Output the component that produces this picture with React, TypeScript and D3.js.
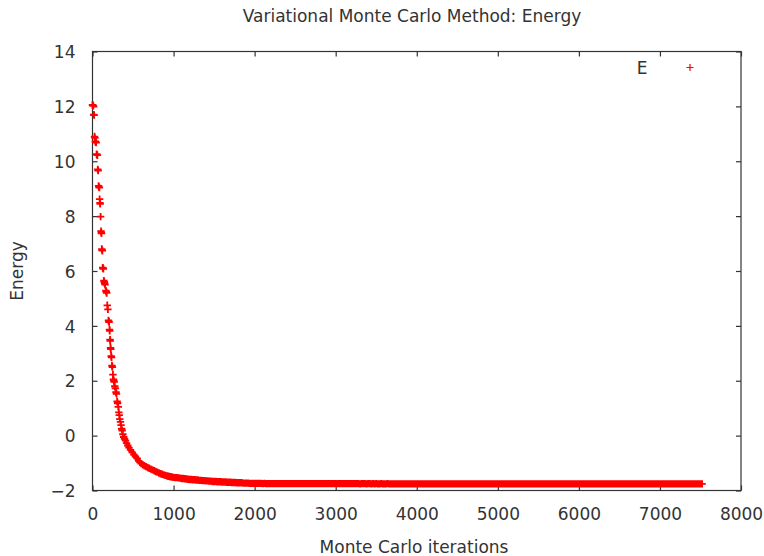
import React, { useEffect, useRef } from 'react';
import * as d3 from 'd3';

// early part of the run
const earlyIterations = [
  0, 5, 10, 15, 20, 25, 30, 35, 40, 45, 50, 55, 60, 65, 70, 75, 80, 85, 88, 92,
  95, 100, 105, 108, 111, 115, 118, 122, 126, 130, 134, 140, 145, 150, 155, 165, 170, 175, 182, 190,
  197, 201, 205, 210, 213, 216, 219, 222, 226, 230, 235, 240, 245, 252, 258, 263, 268, 275, 282, 290,
  296, 304, 310, 318, 325, 330, 337, 345, 352, 360, 366, 375, 385, 395, 407, 420, 435, 450, 469, 490,
  510, 530, 551, 570, 585,
];
const earlyEnergies = [
  12.05, 12.04, 12.02, 11.7, 11.68, 10.9, 10.85, 10.72, 10.7, 10.68, 10.26, 10.24, 10.22, 9.7, 9.66, 9.1, 9.06, 9.04, 8.62, 8.48,
  8.45, 7.98, 7.45, 7.4, 7.37, 6.8, 6.76, 6.74, 6.12, 6.1, 6.08, 5.65, 5.6, 5.55, 5.5, 5.28, 5.24, 5.2, 4.75, 4.6,
  4.2, 4.16, 4.14, 3.86, 3.82, 3.5, 3.45, 3.2, 3.15, 2.9, 2.85, 2.55, 2.5, 2.22, 2.05, 2.0, 1.96, 1.8, 1.72, 1.58,
  1.52, 1.25, 1.18, 1.05, 0.85, 0.75, 0.6, 0.5, 0.38, 0.25, 0.18, 0.05, -0.05, -0.12, -0.18, -0.27, -0.36, -0.44, -0.52, -0.61,
  -0.69, -0.76, -0.83, -0.92, -0.97,
];

// the rest of the run, one reading every 20 iterations from 600 to 7520
const tailStart = 600;
const tailStep = 20;
const tailEnergies = [
  -1.02, -1.06, -1.1, -1.13, -1.16, -1.19, -1.22, -1.25, -1.28, -1.31, -1.33, -1.36, -1.39, -1.41, -1.43, -1.45, -1.47, -1.48, -1.5, -1.51,
  -1.52, -1.53, -1.53, -1.54, -1.55, -1.56, -1.56, -1.57, -1.58, -1.59, -1.6, -1.6, -1.61, -1.61, -1.62, -1.62, -1.63, -1.63, -1.64, -1.64,
  -1.65, -1.65, -1.66, -1.66, -1.67, -1.67, -1.67, -1.68, -1.68, -1.68, -1.69, -1.69, -1.69, -1.7, -1.7, -1.7, -1.71, -1.71, -1.71, -1.72,
  -1.72, -1.72, -1.72, -1.73, -1.73, -1.73, -1.73, -1.74, -1.74, -1.74,
  -1.74, -1.74, -1.74, -1.74, -1.74, -1.75, -1.74, -1.75, -1.75, -1.75, -1.75, -1.75, -1.75, -1.75, -1.75, -1.75, -1.75, -1.75, -1.75, -1.75,
  -1.75, -1.75, -1.75, -1.75, -1.75, -1.75, -1.75, -1.75, -1.75, -1.75, -1.75, -1.75, -1.75, -1.75, -1.75, -1.75, -1.75, -1.75, -1.75, -1.75,
  -1.75, -1.75, -1.75, -1.75, -1.75, -1.75, -1.75, -1.75, -1.75, -1.75, -1.75, -1.75, -1.75, -1.75, -1.75, -1.75, -1.75, -1.75, -1.75, -1.75,
  -1.75, -1.75, -1.75, -1.75, -1.75, -1.76, -1.75, -1.75, -1.75, -1.76, -1.75, -1.75, -1.76, -1.75, -1.76, -1.75, -1.76, -1.76, -1.75, -1.76,
  -1.76, -1.76, -1.75, -1.76, -1.76, -1.76, -1.76, -1.76, -1.76, -1.76, -1.76, -1.76, -1.76, -1.76, -1.76, -1.76, -1.76, -1.76, -1.76, -1.76,
  -1.76, -1.76, -1.76, -1.76, -1.76, -1.76, -1.76, -1.76, -1.76, -1.76, -1.76, -1.76, -1.76, -1.76, -1.76, -1.76, -1.76, -1.76, -1.76, -1.76,
  -1.76, -1.76, -1.76, -1.76, -1.76, -1.76, -1.76, -1.76, -1.76, -1.76, -1.76, -1.76, -1.76, -1.76, -1.76, -1.76, -1.76, -1.76, -1.76, -1.76,
  -1.76, -1.76, -1.76, -1.76, -1.76, -1.76, -1.76, -1.76, -1.76, -1.76, -1.76, -1.76, -1.76, -1.76, -1.76, -1.76, -1.76, -1.76, -1.76, -1.76,
  -1.76, -1.76, -1.76, -1.76, -1.76, -1.76, -1.76, -1.76, -1.76, -1.76, -1.76, -1.76, -1.76, -1.76, -1.76, -1.76, -1.76, -1.76, -1.76, -1.76,
  -1.76, -1.76, -1.76, -1.76, -1.76, -1.76, -1.76, -1.76, -1.76, -1.76, -1.76, -1.76, -1.76, -1.76, -1.76, -1.76, -1.76, -1.76, -1.76, -1.76,
  -1.76, -1.76, -1.76, -1.76, -1.76, -1.76, -1.76, -1.76, -1.76, -1.76, -1.76, -1.76, -1.76, -1.76, -1.76, -1.76, -1.76, -1.76, -1.76, -1.76,
  -1.76, -1.76, -1.76, -1.76, -1.76, -1.76, -1.76, -1.76, -1.76, -1.76, -1.76, -1.76, -1.76, -1.76, -1.76, -1.76, -1.76, -1.76, -1.76, -1.76,
  -1.76, -1.76, -1.76, -1.76, -1.76, -1.76, -1.76, -1.76, -1.76, -1.76, -1.76, -1.76, -1.76, -1.76, -1.76, -1.76, -1.76, -1.76, -1.76, -1.76,
  -1.76, -1.76, -1.76, -1.76, -1.76, -1.76, -1.76, -1.76, -1.76, -1.76, -1.76, -1.76, -1.76, -1.76, -1.76, -1.76, -1.76,
];

const xTicks = [0, 1000, 2000, 3000, 4000, 5000, 6000, 7000, 8000];
const yTicks = [-2, 0, 2, 4, 6, 8, 10, 12, 14];

const title = 'Variational Monte Carlo Method: Energy';
const xLabel = 'Monte Carlo iterations';
const yLabel = 'Energy';
const seriesName = 'E';

const width = 764;
const height = 556;
const font = '"DejaVu Sans", sans-serif';
const ink = '#333';

const App = () => {
  const svgRef = useRef<SVGSVGElement>(null);

  useEffect(() => {
    const svg = d3.select(svgRef.current);
    svg.selectAll('*').remove();

    const left = 92.5;
    const right = 741;
    const top = 51.5;
    const bottom = 490.5;

    const x = d3.scaleLinear().domain([0, 8000]).range([left, right]);
    const y = d3.scaleLinear().domain([-2, 14]).range([bottom, top]);

    const points: [number, number][] = earlyIterations.map((it, i) => [it, earlyEnergies[i]]);
    tailEnergies.forEach((e, i) => points.push([tailStart + i * tailStep, e]));

    // frame
    svg
      .append('rect')
      .attr('x', left)
      .attr('y', top)
      .attr('width', right - left)
      .attr('height', bottom - top)
      .attr('fill', 'none')
      .attr('stroke', ink)
      .attr('stroke-width', 1.2);

    const styleAxis = (g: any) => {
      g.select('.domain').remove();
      g.selectAll('line').attr('stroke', ink).attr('stroke-width', 1.2);
      g.selectAll('text').attr('fill', ink).style('font-family', font).style('font-size', '17px');
    };

    svg
      .append('g')
      .attr('transform', `translate(0,${bottom})`)
      .call(d3.axisBottom(x).tickValues(xTicks).tickSizeInner(-5).tickSizeOuter(0).tickPadding(17.5).tickFormat(d3.format('d')))
      .call(styleAxis);
    svg
      .append('g')
      .attr('transform', `translate(0,${top})`)
      .call(d3.axisTop(x).tickValues(xTicks).tickSizeInner(-5).tickSizeOuter(0).tickFormat(() => ''))
      .call(styleAxis);
    svg
      .append('g')
      .attr('transform', `translate(${left},0)`)
      .call(d3.axisLeft(y).tickValues(yTicks).tickSizeInner(-5).tickSizeOuter(0).tickPadding(17).tickFormat(d3.format('d')))
      .call(styleAxis)
      .selectAll('text')
      .attr('dy', '0.36em');
    svg
      .append('g')
      .attr('transform', `translate(${right},0)`)
      .call(d3.axisRight(y).tickValues(yTicks).tickSizeInner(-5).tickSizeOuter(0).tickFormat(() => ''))
      .call(styleAxis);

    // "+" markers
    const s = 3.7;
    const path = d3.path();
    points.forEach(([it, e]) => {
      const px = x(it);
      const py = y(e);
      path.moveTo(px - s, py);
      path.lineTo(px + s, py);
      path.moveTo(px, py - s);
      path.lineTo(px, py + s);
    });
    svg
      .append('path')
      .attr('d', path.toString())
      .attr('fill', 'none')
      .attr('stroke', '#ff0000')
      .attr('stroke-width', 1.8);

    const text = (tx: number, ty: number, str: string, anchor: string) =>
      svg
        .append('text')
        .attr('x', tx)
        .attr('y', ty)
        .attr('text-anchor', anchor)
        .attr('fill', ink)
        .style('font-family', font)
        .style('font-size', '17px')
        .text(str);

    text(412, 21.5, title, 'middle');
    text(414, 553, xLabel, 'middle');
    text(0, 0, yLabel, 'middle').attr('transform', `translate(23,${(top + bottom) / 2}) rotate(-90)`);

    // legend
    text(647.5, 73.5, seriesName, 'end');
    const lx = 690;
    const ly = 67.5;
    svg
      .append('path')
      .attr('d', `M${lx - 3.5},${ly}H${lx + 3.5}M${lx},${ly - 3.5}V${ly + 3.5}`)
      .attr('stroke', '#ff0000')
      .attr('stroke-width', 1.2);
  }, []);

  return (
    <svg
      ref={svgRef}
      width={width}
      height={height}
      style={{ position: 'absolute', left: 0, top: 0, background: '#fff' }}
    />
  );
};

export default App;
